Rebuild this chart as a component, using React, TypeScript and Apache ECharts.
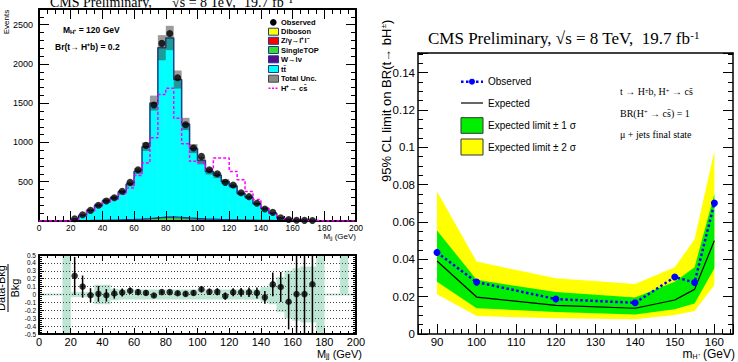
import React, { useEffect, useRef } from "react";
import * as echarts from "echarts";

// ---------------- Left: M_jj distribution (5 GeV bins, 0-200) ----------------
const binLow = [0, 5, 10, 15, 20, 25, 30, 35, 40, 45, 50, 55, 60, 65, 70, 75, 80, 85, 90, 95, 100, 105, 110, 115, 120, 125, 130, 135, 140, 145, 150, 155, 160, 165, 170, 175, 180, 185, 190, 195];
const observed = [null, null, null, null, 28, 80, 135, 200, 255, 297, 378, 492, 653, 963, 1477, 2262, 2389, 1825, 1226, 929, 823, 653, 602, 492, 458, 360, 310, 225, 152, 110, 42, 20, 10, 8, 6, null, null, null, null, null];
const ttbar = [0, 0, 0, 0, 21, 68, 130, 191, 247, 284, 354, 450, 609, 915, 1461, 2157, 2277, 1754, 1197, 889, 741, 608, 562, 485, 432, 339, 291, 212, 150, 92, 34, 20, 8, 8, 5, 0, 0, 0, 0, 0];
const wjets = [0, 0, 0, 0, 1, 2, 3, 4, 4, 5, 6, 7, 8, 9, 10, 10, 10, 9, 8, 8, 7, 6, 6, 5, 5, 4, 4, 3, 3, 2, 2, 1, 1, 0, 0, 0, 0, 0, 0, 0];
const singleTop = [0, 0, 0, 0, 1, 2, 3, 4, 5, 6, 8, 10, 14, 20, 28, 36, 40, 36, 28, 22, 18, 15, 12, 10, 8, 7, 6, 5, 4, 3, 2, 1, 1, 0, 0, 0, 0, 0, 0, 0];
const zjets = [0, 0, 0, 0, 0, 1, 1, 1, 1, 1, 2, 2, 2, 2, 2, 3, 3, 2, 2, 2, 2, 2, 1, 1, 1, 1, 1, 1, 1, 1, 0, 0, 0, 0, 0, 0, 0, 0, 0, 0];
const diboson = [0, 0, 0, 0, 0, 0, 0, 0, 1, 1, 1, 1, 1, 1, 1, 1, 1, 1, 1, 1, 1, 1, 1, 1, 1, 0, 0, 0, 0, 0, 0, 0, 0, 0, 0, 0, 0, 0, 0, 0];
const totalUnc = [0, 0, 0, 0, 3, 6, 10, 22, 28, 22, 24, 30, 38, 55, 95, 160, 155, 115, 78, 58, 48, 40, 36, 32, 28, 22, 20, 15, 14, 12, 8, 6, 3, 3, 2, 0, 0, 0, 0, 0];
const hplusSignal = [0, 0, 0, 0, 20, 66, 127, 186, 240, 276, 340, 420, 580, 740, 1060, 1610, 1690, 1310, 985, 760, 745, 653, 802, 802, 632, 526, 377, 275, 160, 100, 35, 16, 8, 7, 5, 0, 0, 0, 0, 0];

// ratio (Data-Bkg)/Bkg
const ratio = [null, null, null, null, 0.236, 0.1, -0.01, 0.008, -0.01, 0.012, 0.025, 0.048, 0.03, 0.02, -0.012, 0.03, 0.03, 0.016, 0.008, 0.02, 0.066, 0.034, 0.034, -0.02, 0.028, 0.028, 0.028, 0.02, -0.036, 0.128, 0.095, -0.092, 0.005, 0.005, 0.13, null, null, null, null, null];
const ratioErr = [null, null, null, null, 0.24, 0.14, 0.09, 0.1, 0.08, 0.065, 0.05, 0.04, 0.035, 0.03, 0.025, 0.02, 0.02, 0.025, 0.03, 0.035, 0.04, 0.04, 0.045, 0.045, 0.05, 0.055, 0.06, 0.07, 0.08, 0.15, 0.19, 0.35, 1, 1, 1, null, null, null, null, null];
const bandLow = [0, 0, 0, -0.6, -0.03, -0.03, -0.03, -0.12, -0.12, -0.07, -0.06, -0.06, -0.06, -0.06, -0.06, -0.06, -0.06, -0.06, -0.06, -0.06, -0.06, -0.06, -0.06, -0.06, -0.06, -0.06, -0.06, -0.06, -0.09, -0.12, -0.22, -0.3, -0.33, -0.35, -0.35, -0.6, 0, 0, 0, 0];
const bandHigh = [0, 0, 0, 0.6, 0.03, 0.03, 0.03, 0.12, 0.12, 0.07, 0.06, 0.06, 0.06, 0.06, 0.06, 0.06, 0.06, 0.06, 0.06, 0.06, 0.06, 0.06, 0.06, 0.06, 0.06, 0.06, 0.06, 0.06, 0.09, 0.12, 0.22, 0.3, 0.33, 0.35, 0.35, 0.6, 0, 0, 0.6, 0];

// ---------------- Right: limits ----------------
const massPoints = [90, 100, 120, 140, 150, 155, 160];
const limitObserved = [0.0437, 0.0278, 0.0187, 0.0167, 0.0305, 0.0276, 0.0701];
const limitExpected = [0.0391, 0.0198, 0.0153, 0.0138, 0.0182, 0.0239, 0.05];
const limitMinus1 = [0.028, 0.0138, 0.0118, 0.0105, 0.0132, 0.0164, 0.0352];
const limitPlus1 = [0.0554, 0.029, 0.0225, 0.0196, 0.028, 0.0357, 0.075];
const limitMinus2 = [0.0213, 0.0096, 0.0084, 0.0079, 0.0102, 0.0123, 0.0263];
const limitPlus2 = [0.0763, 0.0388, 0.0298, 0.0268, 0.0357, 0.0507, 0.098];

const SANS = '"Liberation Sans", Arial, Helvetica, sans-serif';
const SERIF = '"Liberation Serif", "Times New Roman", serif';
const BW = 5;
const STACK_COLORS = ["#ffff00", "#ff0000", "#33dd33", "#5a0b8c", "#00ffff"];
const OUTLINE = "#1f3c88";

function axisBase(extra: any) {
  return {
    type: "value",
    z: 5,
    axisLine: { show: true, onZero: false, lineStyle: { color: "#000", width: 2 } },
    axisTick: { show: true, inside: true, length: 10, lineStyle: { color: "#000", width: 1 } },
    minorTick: { show: true, length: 5, lineStyle: { color: "#000", width: 1 } },
    splitLine: { show: false },
    ...extra,
  };
}

function txt(x: number, y: number, text: string, size: number, opts: any = {}) {
  return {
    type: "text",
    x,
    y,
    rotation: opts.rotation || 0,
    z: 100,
    style: {
      text,
      fontSize: size,
      fontFamily: opts.family || SANS,
      fontWeight: opts.weight || "normal",
      fill: "#000",
      align: opts.align || "left",
      verticalAlign: opts.valign || "middle",
      rich: opts.rich,
    },
  };
}

export default function App() {
  const ref = useRef<HTMLDivElement>(null);
  useEffect(() => {
    document.body.style.margin = "0";
    const chart = echarts.init(ref.current!, null, { renderer: "svg" });

    const total = binLow.map((_, i) => ttbar[i] + wjets[i] + singleTop[i] + zjets[i] + diboson[i]);
    const small = binLow.map((_, i) => wjets[i] + singleTop[i] + zjets[i] + diboson[i]);
    const stackData = binLow.map((lo, i) => [lo, lo + BW, diboson[i], zjets[i], singleTop[i], wjets[i], ttbar[i]]);
    const uncData = binLow
      .map((lo, i) => [lo, lo + BW, total[i] - totalUnc[i], total[i] + totalUnc[i]])
      .filter((d) => d[3] > d[2]);
    const stepOf = (vals: number[]) => [...binLow.map((lo, i) => [lo, vals[i]]), [200, vals[vals.length - 1]]];
    const obsData = binLow.map((lo, i) => [lo + BW / 2, observed[i]]).filter((d) => d[1] != null);
    const ratioPts = binLow.map((lo, i) => [lo + BW / 2, ratio[i], ratioErr[i]]).filter((d) => d[1] != null);
    const bandData = binLow.map((lo, i) => [lo, lo + BW, bandLow[i], bandHigh[i]]).filter((d) => d[3] > d[2]);

    const rectFrom = (api: any, x0: number, x1: number, y0: number, y1: number) => {
      const a = api.coord([x0, y0]);
      const b = api.coord([x1, y1]);
      return { x: a[0], y: b[1], width: b[0] - a[0], height: a[1] - b[1] };
    };

    const bandPolygon = (up: number[], lo: number[], color: string) => ({
      type: "custom",
      xAxisIndex: 4,
      yAxisIndex: 4,
      data: [[massPoints[0], up[0]]],
      z: 2,
      renderItem: (_p: any, api: any) => {
        const pts: number[][] = [];
        massPoints.forEach((m, i) => pts.push(api.coord([m, up[i]])));
        for (let i = massPoints.length - 1; i >= 0; i--) pts.push(api.coord([massPoints[i], lo[i]]));
        return { type: "polygon", shape: { points: pts }, style: { fill: color } };
      },
    });

    const option: any = {
      animation: false,
      grid: [
        { left: 39, top: 9, width: 317, height: 212 },
        { left: 39, top: 255, width: 317, height: 79 },
        { left: 418, top: 53, width: 315, height: 281 },
      ],
      xAxis: [
        axisBase({ gridIndex: 0, position: "bottom", min: 0, max: 200, interval: 20, minorTick: { show: true, splitNumber: 4, length: 5, lineStyle: { color: "#000" } }, axisLabel: { fontSize: 8.5, fontFamily: SANS, color: "#000", margin: 2 } }),
        axisBase({ gridIndex: 0, position: "top", min: 0, max: 200, interval: 20, minorTick: { show: true, splitNumber: 4, length: 5, lineStyle: { color: "#000" } }, axisLabel: { show: false } }),
        axisBase({ gridIndex: 1, position: "bottom", min: 0, max: 200, interval: 20, axisTick: { show: true, inside: true, length: 6, lineStyle: { color: "#000" } }, minorTick: { show: true, splitNumber: 4, length: 3, lineStyle: { color: "#000" } }, axisLabel: { fontSize: 11, fontFamily: SANS, color: "#000", margin: 2 } }),
        axisBase({ gridIndex: 1, position: "top", min: 0, max: 200, interval: 20, axisTick: { show: true, inside: true, length: 6, lineStyle: { color: "#000" } }, minorTick: { show: true, splitNumber: 4, length: 3, lineStyle: { color: "#000" } }, axisLabel: { show: false } }),
        axisBase({ gridIndex: 2, position: "bottom", min: 85.2, max: 164.7, minInterval: 10, maxInterval: 10, axisLine: { show: true, onZero: false, lineStyle: { color: "#000", width: 1.5 } }, minorTick: { show: true, splitNumber: 5, length: 5, lineStyle: { color: "#000" } }, axisLabel: { fontSize: 11.5, fontFamily: SANS, color: "#000", margin: 2, showMinLabel: false, showMaxLabel: false } }),
        axisBase({ gridIndex: 2, position: "top", min: 85.2, max: 164.7, minInterval: 10, maxInterval: 10, axisLine: { show: true, onZero: false, lineStyle: { color: "#000", width: 1.5 } }, axisTick: { show: false }, minorTick: { show: false }, axisLabel: { show: false } }),
      ],
      yAxis: [
        axisBase({ gridIndex: 0, position: "left", min: 0, max: 2700, interval: 500, minorTick: { show: true, splitNumber: 5, length: 5, lineStyle: { color: "#000" } }, axisLabel: { fontSize: 9, fontFamily: SANS, color: "#000", margin: 6, showMinLabel: false, showMaxLabel: false, formatter: (v: number) => String(v) } }),
        axisBase({ gridIndex: 0, position: "right", min: 0, max: 2700, interval: 500, minorTick: { show: true, splitNumber: 5, length: 5, lineStyle: { color: "#000" } }, axisLabel: { show: false } }),
        axisBase({ gridIndex: 1, position: "left", min: -0.5, max: 0.5, interval: 0.1, axisTick: { show: true, inside: true, length: 5, lineStyle: { color: "#000" } }, minorTick: { show: true, splitNumber: 4, length: 3, lineStyle: { color: "#000" } }, splitLine: { show: true, lineStyle: { color: "#444", width: 1, type: [1, 2] } }, axisLabel: { fontSize: 6.5, fontFamily: SANS, color: "#000", margin: 3, formatter: (v: number) => (Math.abs(v) < 1e-9 ? "0" : v.toFixed(1)) } }),
        axisBase({ gridIndex: 1, position: "right", min: -0.5, max: 0.5, interval: 0.1, axisTick: { show: true, inside: true, length: 5, lineStyle: { color: "#000" } }, minorTick: { show: true, splitNumber: 4, length: 3, lineStyle: { color: "#000" } }, axisLabel: { show: false } }),
        axisBase({ gridIndex: 2, position: "left", min: 0, max: 0.1505, interval: 0.02, axisLine: { show: true, onZero: false, lineStyle: { color: "#000", width: 1.5 } }, minorTick: { show: true, splitNumber: 4, length: 5, lineStyle: { color: "#000" } }, axisLabel: { fontSize: 11.5, fontFamily: SANS, color: "#000", margin: 3, showMaxLabel: false, formatter: (v: number) => (v === 0 ? "0" : String(Number(v.toFixed(3)))) } }),
        axisBase({ gridIndex: 2, position: "right", min: 0, max: 0.1505, interval: 0.02, axisLine: { show: true, onZero: false, lineStyle: { color: "#000", width: 1.5 } }, minorTick: { show: true, splitNumber: 4, length: 5, lineStyle: { color: "#000" } }, axisLabel: { show: false } }),
      ],
      series: [
        // stacked backgrounds
        {
          type: "custom",
          xAxisIndex: 0,
          yAxisIndex: 0,
          data: stackData,
          z: 2,
          renderItem: (_p: any, api: any) => {
            const lo = api.value(0);
            const hi = api.value(1);
            let base = 0;
            const children: any[] = [];
            for (let k = 0; k < 5; k++) {
              const v = api.value(2 + k);
              if (v > 0) {
                children.push({ type: "rect", shape: rectFrom(api, lo, hi, base, base + v), style: { fill: STACK_COLORS[k], stroke: STACK_COLORS[k], lineWidth: 0.6 } });
                base += v;
              }
            }
            return { type: "group", children };
          },
        },
        { type: "line", xAxisIndex: 0, yAxisIndex: 0, step: "end", data: stepOf(small), symbol: "none", z: 3, lineStyle: { color: OUTLINE, width: 1.2 } },
        { type: "line", xAxisIndex: 0, yAxisIndex: 0, step: "end", data: stepOf(total), symbol: "none", z: 3, lineStyle: { color: OUTLINE, width: 1.5 } },
        // total uncertainty boxes
        {
          type: "custom",
          xAxisIndex: 0,
          yAxisIndex: 0,
          data: uncData,
          z: 4,
          renderItem: (_p: any, api: any) => ({
            type: "rect",
            shape: rectFrom(api, api.value(0), api.value(1), api.value(2), api.value(3)),
            style: { fill: "rgba(55,55,55,0.5)" },
          }),
        },
        { type: "line", xAxisIndex: 0, yAxisIndex: 0, step: "end", data: stepOf(hplusSignal), symbol: "none", z: 6, lineStyle: { color: "#ff00ff", width: 1.5, type: [3, 2] } },
        { type: "scatter", xAxisIndex: 0, yAxisIndex: 0, data: obsData, symbol: "circle", symbolSize: 7, z: 8, itemStyle: { color: "#000" } },
        // ratio panel
        { type: "line", xAxisIndex: 2, yAxisIndex: 2, data: [[0, 0], [200, 0]], symbol: "none", z: 1, lineStyle: { color: "#bde5d3", width: 2 } },
        {
          type: "custom",
          xAxisIndex: 2,
          yAxisIndex: 2,
          data: bandData,
          z: 1,
          clip: true,
          renderItem: (_p: any, api: any) => ({
            type: "rect",
            shape: rectFrom(api, api.value(0), api.value(1), api.value(2), api.value(3)),
            style: { fill: "#bde5d3", stroke: "#bde5d3", lineWidth: 0.5 },
          }),
        },
        {
          type: "custom",
          xAxisIndex: 2,
          yAxisIndex: 2,
          data: ratioPts,
          z: 6,
          clip: true,
          renderItem: (_p: any, api: any) => {
            const c = api.value(0);
            const r = api.value(1);
            const e = api.value(2);
            const a = api.coord([c, r - e]);
            const b = api.coord([c, r + e]);
            return { type: "line", shape: { x1: a[0], y1: a[1], x2: b[0], y2: b[1] }, style: { stroke: "#000", lineWidth: 1.5 } };
          },
        },
        { type: "scatter", xAxisIndex: 2, yAxisIndex: 2, data: ratioPts.map((d) => [d[0], d[1]]), symbol: "circle", symbolSize: 6.5, z: 8, itemStyle: { color: "#000" } },
        // limits
        bandPolygon(limitPlus2, limitMinus2, "#ffff00"),
        bandPolygon(limitPlus1, limitMinus1, "#00ee00"),
        { type: "line", xAxisIndex: 4, yAxisIndex: 4, data: massPoints.map((m, i) => [m, limitExpected[i]]), symbol: "none", z: 4, lineStyle: { color: "#000", width: 1.2 } },
        { type: "line", xAxisIndex: 4, yAxisIndex: 4, data: massPoints.map((m, i) => [m, limitObserved[i]]), symbol: "circle", symbolSize: 7, z: 6, itemStyle: { color: "#0000ff" }, lineStyle: { color: "#0000ff", width: 2.5, type: [2.5, 2.5] } },
      ],
      graphic: [
        // titles
        txt(50, 2, "CMS Preliminary,", 14, { family: SERIF }),
        txt(172, 2, "√s = 8 TeV,", 14, { family: SERIF }),
        txt(244, 2, "19.7 fb⁻¹", 14, { family: SERIF }),
        txt(428, 38, "{n|CMS Preliminary, √s = 8 TeV,  19.7 fb}{s|-1}", 17, {
          family: SERIF,
          rich: { n: { fontSize: 17, fontFamily: SERIF }, s: { fontSize: 11, fontFamily: SERIF, verticalAlign: "top", padding: [0, 0, 6, 0] } },
        }),
        // left axis titles
        txt(6, 22, "Events", 8, { rotation: Math.PI / 2, align: "center" }),
        txt(356, 236, "{n|M}{s|jj}{n| (GeV)}", 8, { align: "right", rich: { n: { fontSize: 8, fontFamily: SANS }, s: { fontSize: 5, fontFamily: SANS, verticalAlign: "bottom" } } }),
        txt(362, 354, "{n|M}{s|jj}{n| (GeV)}", 11, { align: "right", rich: { n: { fontSize: 11, fontFamily: SANS }, s: { fontSize: 8, fontFamily: SANS, verticalAlign: "bottom" } } }),
        {
          type: "group",
          x: 8,
          y: 288,
          rotation: Math.PI / 2,
          z: 100,
          children: [
            { type: "text", x: 0, y: -1.5, style: { text: "Data-Bkg", fontSize: 11, fontFamily: SANS, fill: "#000", align: "center", verticalAlign: "bottom" } },
            { type: "line", shape: { x1: -24, y1: 0, x2: 24, y2: 0 }, style: { stroke: "#000", lineWidth: 1 } },
            { type: "text", x: 0, y: 1.5, style: { text: "Bkg", fontSize: 11, fontFamily: SANS, fill: "#000", align: "center", verticalAlign: "top" } },
          ],
        },
        // annotations left
        txt(63, 30, "{b|M}{s|H⁺}{b| = 120 GeV}", 8.5, { rich: { b: { fontSize: 8.5, fontWeight: "bold", fontFamily: SANS }, s: { fontSize: 6, fontWeight: "bold", fontFamily: SANS, verticalAlign: "bottom" } } }),
        txt(55, 47, "Br(t→ H⁺b) = 0.2", 8.5, { weight: "bold" }),
        // left legend
        { type: "circle", z: 100, shape: { cx: 273.3, cy: 22.3, r: 3.3 }, style: { fill: "#000" } },
        ...[
          ["#ffff00", 31.7],
          ["#ff0000", 40.8],
          ["#33dd33", 50],
          ["#5a0b8c", 59.3],
          ["#00ffff", 69],
        ].map(([c, y]) => ({ type: "rect", z: 100, shape: { x: 268.5, y: (y as number) - 3.5, width: 10, height: 7 }, style: { fill: c, stroke: OUTLINE, lineWidth: 1 } })),
        { type: "rect", z: 100, shape: { x: 268.5, y: 75.2, width: 10, height: 7 }, style: { fill: "#8a8a8a", stroke: "#444", lineWidth: 1 } },
        { type: "line", z: 100, shape: { x1: 268.5, y1: 88.3, x2: 278.5, y2: 88.3 }, style: { stroke: "#ff00ff", lineWidth: 1.5, lineDash: [2, 1.5] } },
        ...[
          ["Observed", 22.3],
          ["Diboson", 31.7],
          ["Z/γ→l⁺l⁻", 40.8],
          ["SingleTOP", 50],
          ["W→lν", 59.3],
          ["tt̄", 69],
          ["Total Unc.", 78.7],
          ["H⁺→ cs̄", 88.3],
        ].map(([t, y]) => txt(281, y as number, t as string, 7.5, { weight: "bold" })),
        // right axis titles
        txt(386, 101, "{n|95% CL limit on BR(t→ bH}{s|±}{n|)}", 13, {
          rotation: Math.PI / 2,
          align: "center",
          rich: { n: { fontSize: 13, fontFamily: SANS }, s: { fontSize: 8, fontFamily: SANS, verticalAlign: "top" } },
        }),
        txt(735, 354, "{n|m}{s|H⁺}{n| (GeV)}", 12, { align: "right", rich: { n: { fontSize: 12, fontFamily: SANS }, s: { fontSize: 7, fontFamily: SANS, verticalAlign: "bottom" } } }),
        // right legend
        { type: "line", z: 100, shape: { x1: 461, y1: 81.7, x2: 483, y2: 81.7 }, style: { stroke: "#0000ff", lineWidth: 2.5, lineDash: [2.5, 2.5] } },
        { type: "circle", z: 100, shape: { cx: 472, cy: 81.7, r: 3 }, style: { fill: "#0000ff" } },
        { type: "line", z: 100, shape: { x1: 461, y1: 103, x2: 483, y2: 103 }, style: { stroke: "#000", lineWidth: 1.2 } },
        { type: "rect", z: 100, shape: { x: 461, y: 117.7, width: 22, height: 15.6 }, style: { fill: "#00ee00", stroke: "#333", lineWidth: 1 } },
        { type: "rect", z: 100, shape: { x: 461, y: 139, width: 22, height: 16 }, style: { fill: "#ffff00", stroke: "#333", lineWidth: 1 } },
        txt(488, 81.7, "Observed", 10),
        txt(488, 103, "Expected", 10),
        txt(488, 125.5, "Expected limit ± 1 σ", 10),
        txt(488, 147, "Expected limit ± 2 σ", 10),
        // right annotations
        txt(620, 91.7, "{n|t → H}{s|±}{n|b, H}{s|+}{n| → cs̄}", 10, { rich: { n: { fontSize: 10, fontFamily: SERIF }, s: { fontSize: 6.5, fontFamily: SERIF, verticalAlign: "top" } } }),
        txt(620, 113, "{n|BR(H}{s|+}{n| → cs̄) = 1}", 10, { rich: { n: { fontSize: 10, fontFamily: SERIF }, s: { fontSize: 6.5, fontFamily: SERIF, verticalAlign: "top" } } }),
        txt(620, 134, "μ + jets final state", 10, { family: SERIF }),
      ],
    };

    chart.setOption(option);
    return () => chart.dispose();
  }, []);
  return <div ref={ref} style={{ width: 738, height: 362 }} />;
}
